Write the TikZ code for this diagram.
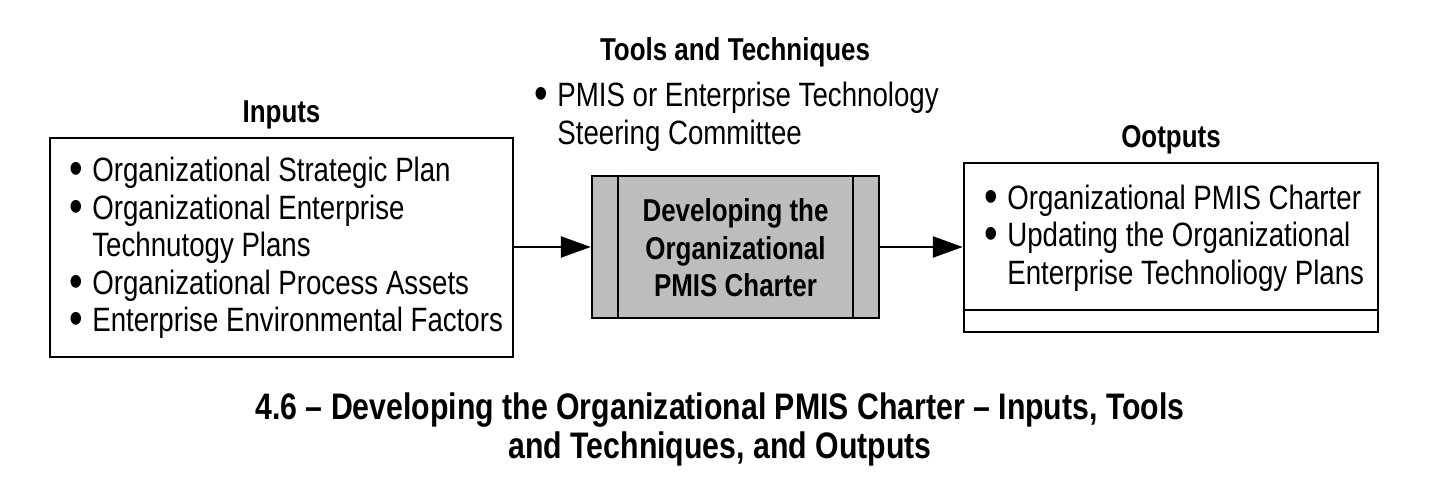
\documentclass[tikz,border=0pt]{standalone}
\usepackage{fontspec}
\setmainfont{Liberation Sans}[FakeStretch=0.82]
\usetikzlibrary{arrows.meta,positioning}
\newcommand{\bul}{\makebox[0.46cm][l]{\smash{\raisebox{-0.06cm}{\scalebox{1.4}{\textbullet}}}}}
\newcommand{\nobul}{\hspace*{0.46cm}}

\begin{document}
\begin{tikzpicture}[
  box/.style={draw, line width=1.4pt, inner sep=0pt},
  body/.style={font=\fontsize{19.2}{21.4}\selectfont, align=left, inner sep=0pt},
  head/.style={font=\fontsize{18}{21.4}\selectfont\bfseries, align=center, inner sep=0pt},
  flow/.style={line width=1.4pt, -{Triangle[length=0.6cm, width=0.42cm]}}
]
\useasboundingbox (0,0) rectangle (28.58,9.62);

% the three boxes
\node[box, minimum width=9.26cm, minimum height=4.38cm] (inp) at (5.63,4.67) {};
\node[box, fill=black!26, minimum width=5.74cm, minimum height=2.84cm] (proc) at (14.71,4.68) {};
\node[box, minimum width=8.28cm, minimum height=3.38cm] (outp) at (23.42,4.67) {};

\draw[line width=1.4pt] ([xshift=0.54cm]proc.north west) -- ([xshift=0.54cm]proc.south west);
\draw[line width=1.4pt] ([xshift=-0.54cm]proc.north east) -- ([xshift=-0.54cm]proc.south east);
\draw[line width=1.4pt] ([yshift=0.46cm]outp.south west) -- ([yshift=0.46cm]outp.south east);

% titles
\node[head, above = 0.15cm of inp] (inptitle) {Inputs};
\node[head, above = 0.15cm of outp] (outptitle) {Ootputs};
\node[head] (tooltitle) at (14.7,8.58) {Tools and Techniques};

% contents
\node[body, anchor=west] (inptext) at (1.38,4.66) {%
\bul Organizational Strategic Plan\\
\bul Organizational Enterprise\\
\nobul Technutogy Plans\\
\bul Organizational Process Assets\\
\bul Enterprise Environmental Factors};

\node[body, anchor=north west] (tooltext) at (10.68,7.98) {%
\bul PMIS or Enterprise Technology\\
\nobul Steering Committee};

\node[head] (proctext) at (14.71,4.66) {Developing the\\Organizational\\PMIS Charter};

\node[body, anchor=west] (outptext) at (19.68,4.86) {%
\bul Organizational PMIS Charter\\
\bul Updating the Organizational\\
\nobul Enterprise Technoliogy Plans};

% arrows
\draw[flow] (inp.east |- proc.west) -- (proc.west);
\draw[flow] (proc.east) -- (outp.west |- proc.east);

% caption
\node[head, font=\fontsize{21}{21.8}\selectfont\bfseries] (caption) at (14.4,1.03) {4.6 -- Developing the Organizational PMIS Charter -- Inputs, Tools\\and Techniques, and Outputs};
\end{tikzpicture}
\end{document}
